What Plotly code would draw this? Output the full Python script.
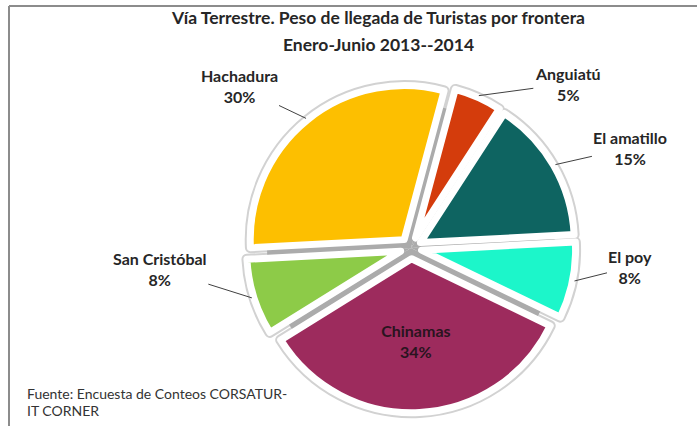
import math
import plotly.graph_objects as go

# ---- data ----
labels = ["Anguiatú", "El amatillo", "El poy", "Chinamas", "San Cristóbal", "Hachadura"]
values = [5, 15, 8, 34, 8, 30]
colors = ["#D43C0C", "#0E6461", "#1CF6CA", "#9D2B5D", "#8DCB48", "#FDBF00"]
title_lines = ["Vía Terrestre. Peso de llegada de Turistas por frontera", "Enero-Junio 2013--2014"]
source_lines = ["Fuente: Encuesta de Conteos CORSATUR-", "IT CORNER"]

# ---- geometry / style ----
W, H = 697, 426
CX, CY = 411, 248          # pie centre in px
R0 = 154                   # base radius in px
PULL = 0.07
ROT = 15
FONT = "Lato"
TXT = "#262626"

def dom(half):
    return dict(x=[(CX - half) / W, (CX + half) / W],
                y=[1 - (CY + half) / H, 1 - (CY - half) / H])

pulls = [PULL] * len(values)
fig = go.Figure()

# soft gray outline of exploded slices
fig.add_trace(go.Pie(labels=labels, values=values, sort=False, direction="clockwise",
                     rotation=ROT, domain=dom(R0 * (1 + PULL)), pull=pulls, textinfo="none",
                     hoverinfo="skip",
                     marker=dict(colors=["#C8C8C8"] * len(values), line=dict(color="#D2D2D2", width=11)),
                     showlegend=False))
# gray hub (unexploded) showing through the gaps
fig.add_trace(go.Pie(labels=labels, values=values, sort=False, direction="clockwise",
                     rotation=ROT, domain=dom(R0 - 10), textinfo="none", hoverinfo="skip",
                     marker=dict(colors=["#ABABAB"] * len(values), line=dict(color="#ABABAB", width=0)),
                     showlegend=False))
# coloured slices
tmpl = ["<b>%{label}<br>%{percent:.0%}</b>" if l == "Chinamas" else "" for l in labels]
fig.add_trace(go.Pie(labels=labels, values=values, sort=False, direction="clockwise",
                     rotation=ROT, domain=dom(R0 * (1 + PULL)), pull=pulls,
                     texttemplate=tmpl, textposition="inside", insidetextorientation="horizontal",
                     textfont=dict(family=FONT, size=16, color="#2a1420"),
                     marker=dict(colors=colors, line=dict(color="white", width=7)),
                     showlegend=False))

# outside labels with leader lines
offsets = {"Anguiatú": (89, -12), "El amatillo": (75, -17), "El poy": (56, -14),
           "San Cristóbal": (-92, -29), "Hachadura": (-67, -32)}
total = sum(values)
acc = 0
annotations = []
for lab, v in zip(labels, values):
    mid = math.radians(ROT + 360 * (acc + v / 2) / total)
    acc += v
    if lab not in offsets:
        continue
    rr = R0 * (1 + PULL) + 2
    px = CX + rr * math.sin(mid)
    py = CY - rr * math.cos(mid)
    ax, ay = offsets[lab]
    annotations.append(dict(x=px / W, y=1 - py / H, xref="paper", yref="paper",
                            text=f"<b>{lab}<br>{round(100 * v / total)}%</b>",
                            showarrow=True, arrowhead=0, arrowwidth=1, arrowcolor="#404040",
                            ax=ax, ay=ay, font=dict(family=FONT, size=16, color=TXT),
                            align="center"))

# title (two lines)
for ty, line in zip([18, 45], title_lines):
    annotations.append(dict(x=378 / W, y=1 - ty / H, xref="paper", yref="paper", showarrow=False,
                            xanchor="center", yanchor="middle", text="<b>" + line + "</b>",
                            font=dict(family=FONT, size=17.5, color=TXT)))
# source
for sy, line in zip([393, 410], source_lines):
    annotations.append(dict(x=25 / W, y=1 - sy / H, xref="paper", yref="paper", showarrow=False,
                            xanchor="left", yanchor="middle", text=line,
                            font=dict(family=FONT, size=14, color="#333333")))

fig.update_layout(
    width=W, height=H, margin=dict(l=0, r=0, t=0, b=0),
    paper_bgcolor="white", plot_bgcolor="white",
    annotations=annotations,
    shapes=[dict(type="line", xref="paper", yref="paper", x0=9 / W, x1=9 / W, y0=0, y1=1 - 6 / H,
                 line=dict(color="#8C8C8C", width=2)),
            dict(type="line", xref="paper", yref="paper", x0=9 / W, x1=1, y0=1 - 6 / H, y1=1 - 6 / H,
                 line=dict(color="#8C8C8C", width=2))],
)
fig.write_html("out.html", config={"displayModeBar": False},
               post_script="document.body.style.margin='0';document.body.style.overflow='hidden';")
